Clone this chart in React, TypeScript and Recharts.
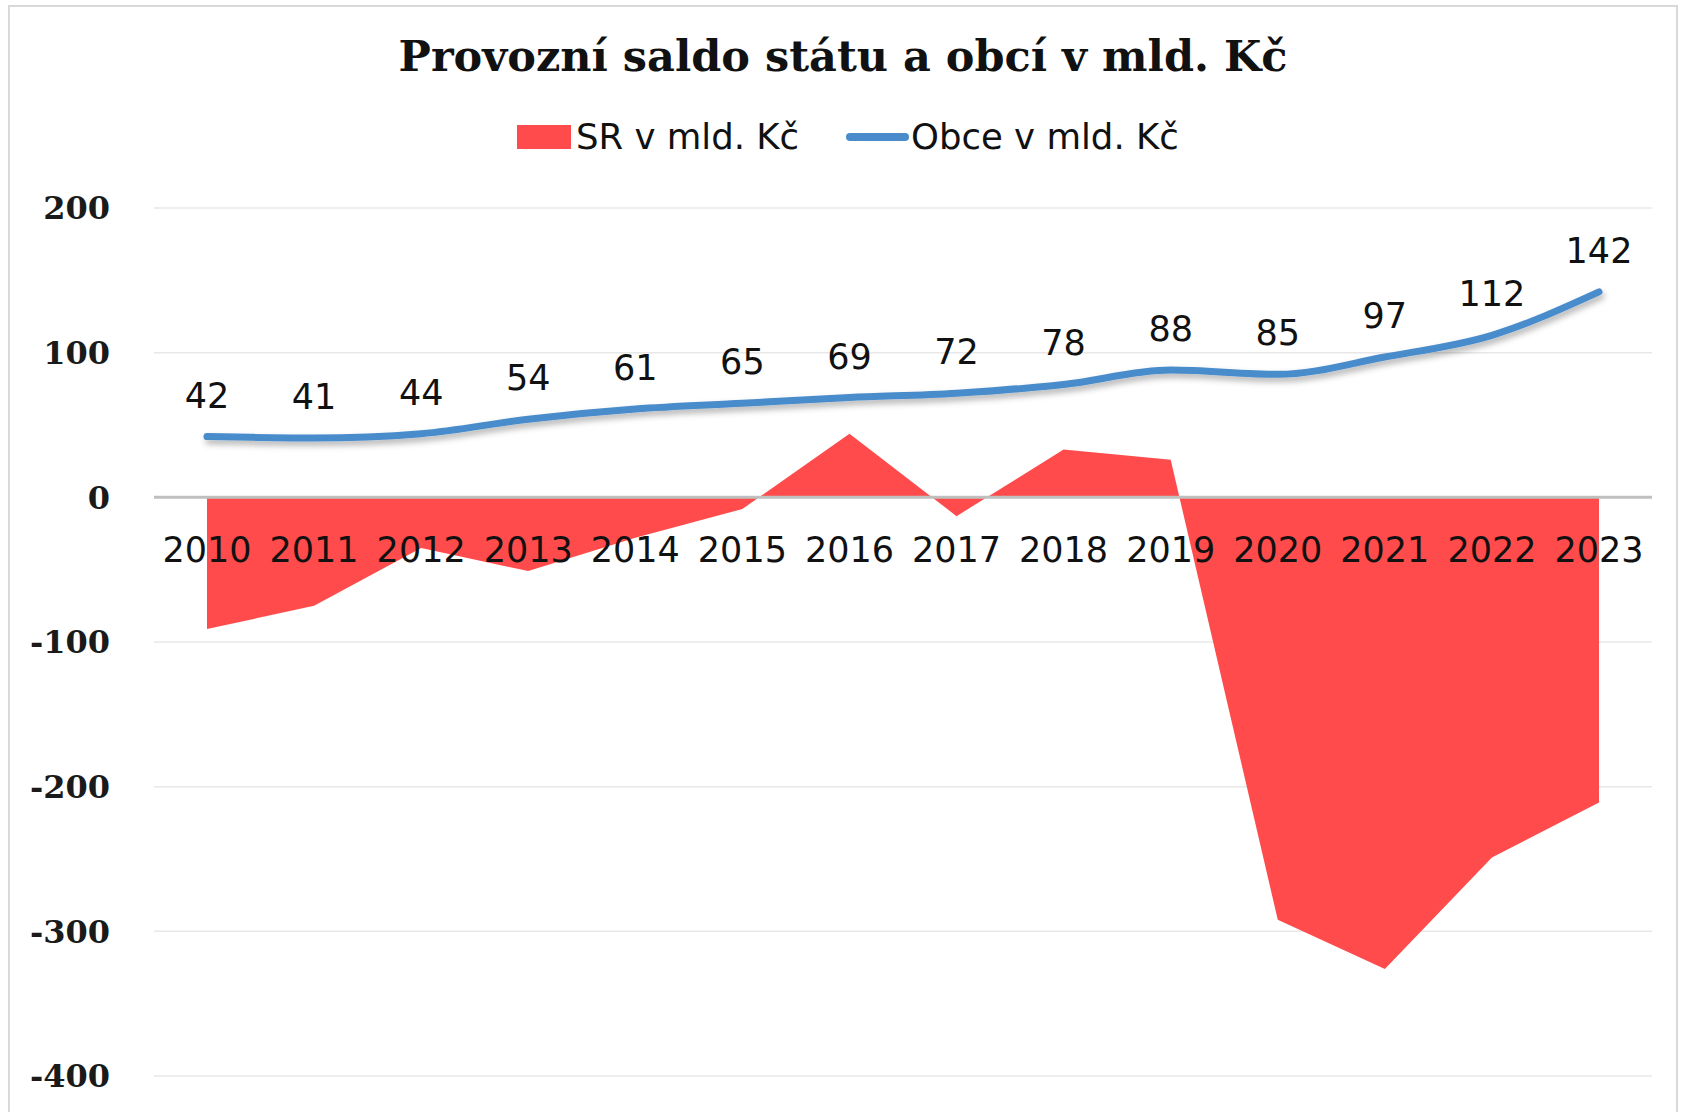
import { ComposedChart, Area, Line, XAxis, YAxis, CartesianGrid, ReferenceLine, LabelList } from 'recharts';

const years = ['2010', '2011', '2012', '2013', '2014', '2015', '2016', '2017', '2018', '2019', '2020', '2021', '2022', '2023'];
const srValues = [-91, -75, -35, -51, -28, -8, 44, -13, 33, 26, -292, -326, -249, -211];
const obceValues = [42, 41, 44, 54, 61, 65, 69, 72, 78, 88, 85, 97, 112, 142];
const yTicks = [-400, -300, -200, -100, 0, 100, 200];

const RED = '#ff4b4b';
const BLUE = '#4a8ccb';

const data = years.map((year, i) => ({ year, sr: srValues[i], obce: obceValues[i], zero: 0 }));

// year labels sit just under the zero line, like Excel's axis crossing at 0
const YearLabel = (props: any) => {
  const { x, y, value } = props;
  return (
    <text x={x} y={y + 65} textAnchor="middle" fontFamily="DejaVu Sans" fontSize={35} fill="#111">
      {value}
    </text>
  );
};

export default function App() {
  return (
    <div style={{ position: 'absolute', left: 0, top: 0, width: 1685, height: 1112, background: '#fff', overflow: 'hidden' }}>
      <div
        style={{
          position: 'absolute',
          left: 8,
          top: 5,
          width: 1670,
          height: 1120,
          border: '2px solid #d9d9d9',
          boxSizing: 'border-box',
        }}
      />
      <svg width={1685} height={200} style={{ position: 'absolute', left: 0, top: 0 }}>
        <text x={843} y={71} textAnchor="middle" fontFamily="DejaVu Serif" fontWeight="bold" fontSize={43} fill="#111">
          Provozní saldo státu a obcí v mld. Kč
        </text>
        <rect x={517} y={125} width={54} height={24} fill={RED} />
        <text x={576} y={149} fontFamily="DejaVu Sans" fontSize={35.5} fill="#111">SR v mld. Kč</text>
        <line x1={850} y1={137} x2={905} y2={137} stroke={BLUE} strokeWidth={8} strokeLinecap="round" />
        <text x={911} y={149} fontFamily="DejaVu Sans" fontSize={35.5} fill="#111">Obce v mld. Kč</text>
      </svg>
      <div style={{ position: 'absolute', left: 0, top: 0 }}>
        <ComposedChart width={1685} height={1112} data={data} margin={{ top: 208, right: 33, bottom: 36, left: 0 }}>
          <defs>
            <filter id="lineShadow" x="-5%" y="-30%" width="110%" height="180%">
              <feDropShadow dx="2" dy="4" stdDeviation="3" floodColor="#000" floodOpacity="0.3" />
            </filter>
          </defs>
          <CartesianGrid vertical={false} stroke="#e8e8e8" strokeWidth={1.5} />
          <XAxis dataKey="year" hide padding={{ left: 53, right: 53 }} />
          <YAxis
            domain={[-400, 200]}
            ticks={yTicks}
            width={154}
            axisLine={false}
            tickLine={false}
            tickSize={0}
            tickMargin={44}
            tick={{ fontFamily: 'DejaVu Serif', fontWeight: 'bold', fontSize: 32, fill: '#1a1a1a' }}
          />
          <Area
            dataKey="sr"
            type="linear"
            baseValue={0}
            fill={RED}
            fillOpacity={1}
            stroke="none"
            isAnimationActive={false}
          />
          <ReferenceLine y={0} stroke="#bfbfbf" strokeWidth={3} />
          <Line
            dataKey="obce"
            type="monotone"
            stroke={BLUE}
            strokeWidth={7}
            strokeLinecap="round"
            dot={false}
            activeDot={false}
            filter="url(#lineShadow)"
            isAnimationActive={false}
          >
            <LabelList dataKey="obce" position="top" offset={29} fill="#111" fontSize={35} fontFamily="DejaVu Sans" />
          </Line>
          <Line dataKey="zero" stroke="none" dot={false} activeDot={false} legendType="none" isAnimationActive={false}>
            <LabelList dataKey="year" content={YearLabel} />
          </Line>
        </ComposedChart>
      </div>
    </div>
  );
}
